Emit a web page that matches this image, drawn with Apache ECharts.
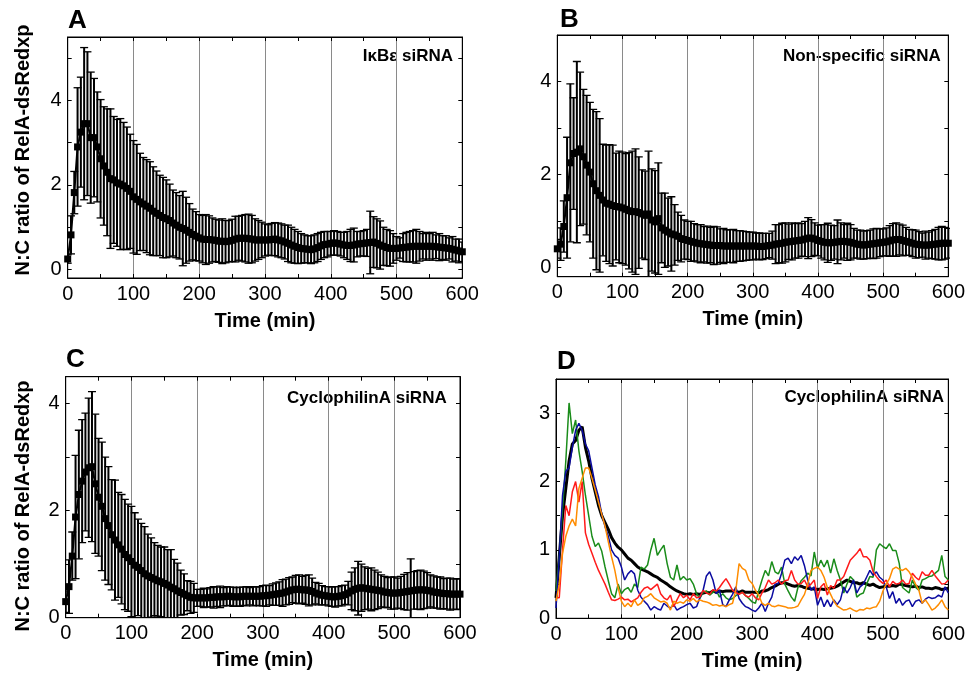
<!DOCTYPE html>
<html><head><meta charset="utf-8">
<script src="https://cdn.jsdelivr.net/npm/echarts@6/dist/echarts.min.js"></script>
<style>html,body{margin:0;padding:0;background:#fff}#c{width:968px;height:673px}</style>
</head><body><div id="c"></div>
<script>
// ---- data ----
const time = [0,5,10,15,20,25,30,35,40,45,50,55,60,65,70,75,80,85,90,95,100,105,110,115,120,125,130,135,140,145,150,155,160,165,170,175,180,185,190,195,200,205,210,215,220,225,230,235,240,245,250,255,260,265,270,275,280,285,290,295,300,305,310,315,320,325,330,335,340,345,350,355,360,365,370,375,380,385,390,395,400,405,410,415,420,425,430,435,440,445,450,455,460,465,470,475,480,485,490,495,500,505,510,515,520,525,530,535,540,545,550,555,560,565,570,575,580,585,590,595,600];
const xTickLabels = [0,100,200,300,400,500,600];

const meanA = [0.25,0.82,1.82,2.9,3.25,3.45,3.45,3.12,3.12,2.9,
2.62,2.45,2.3,2.15,2.12,2.05,2.02,1.98,1.92,1.85,
1.72,1.66,1.6,1.55,1.5,1.45,1.38,1.33,1.28,1.23,
1.2,1.16,1.1,1.05,1.0,0.97,0.93,0.88,0.83,0.79,
0.75,0.72,0.71,0.71,0.7,0.69,0.67,0.67,0.66,0.67,
0.69,0.72,0.74,0.74,0.74,0.73,0.72,0.7,0.7,0.7,
0.7,0.7,0.71,0.72,0.7,0.68,0.65,0.62,0.58,0.55,
0.52,0.5,0.49,0.48,0.47,0.49,0.52,0.56,0.59,0.6,
0.62,0.63,0.62,0.6,0.58,0.57,0.57,0.58,0.6,0.61,
0.62,0.63,0.64,0.65,0.62,0.58,0.55,0.52,0.5,0.5,
0.5,0.51,0.52,0.53,0.54,0.55,0.55,0.55,0.55,0.55,
0.55,0.55,0.54,0.53,0.52,0.51,0.5,0.48,0.46,0.44,
0.42];
const sdA = [0.1,0.45,0.5,1.4,1.3,1.8,1.7,1.55,1.4,1.3,
1.4,1.4,1.5,1.65,1.5,1.5,1.55,1.5,1.45,1.35,
1.33,1.3,1.15,1.1,1.1,1.1,1.05,1.0,0.95,0.95,
0.92,0.86,0.78,0.77,0.75,0.88,0.78,0.68,0.6,0.58,
0.55,0.56,0.59,0.56,0.52,0.5,0.5,0.53,0.5,0.49,
0.5,0.54,0.52,0.54,0.56,0.58,0.56,0.5,0.46,0.42,
0.38,0.36,0.38,0.39,0.4,0.4,0.4,0.43,0.42,0.4,
0.38,0.35,0.33,0.32,0.33,0.33,0.33,0.32,0.31,0.3,
0.28,0.29,0.28,0.28,0.3,0.33,0.38,0.4,0.3,0.29,
0.3,0.32,0.74,0.6,0.58,0.57,0.45,0.43,0.42,0.35,
0.28,0.24,0.33,0.35,0.36,0.37,0.4,0.35,0.3,0.33,
0.3,0.33,0.28,0.32,0.28,0.29,0.25,0.3,0.26,0.28,
0.23];

const meanB = [0.4,0.5,0.88,1.5,2.25,2.45,2.48,2.55,2.38,2.2,
2.05,1.8,1.65,1.55,1.45,1.38,1.36,1.33,1.31,1.3,
1.28,1.25,1.22,1.2,1.2,1.18,1.15,1.12,1.15,1.02,
0.98,1.05,0.85,0.8,0.76,0.72,0.7,0.67,0.62,0.6,
0.58,0.56,0.54,0.52,0.51,0.5,0.49,0.48,0.47,0.47,
0.47,0.46,0.46,0.46,0.46,0.46,0.46,0.46,0.46,0.46,
0.46,0.46,0.45,0.45,0.46,0.47,0.48,0.5,0.51,0.52,
0.54,0.55,0.56,0.57,0.58,0.59,0.61,0.63,0.63,0.61,
0.58,0.56,0.54,0.53,0.53,0.54,0.55,0.56,0.56,0.55,
0.54,0.52,0.5,0.49,0.48,0.49,0.5,0.51,0.52,0.53,
0.54,0.55,0.57,0.59,0.6,0.6,0.58,0.56,0.54,0.52,
0.5,0.49,0.48,0.48,0.48,0.49,0.5,0.51,0.52,0.52,
0.52];
const sdB = [0.2,0.35,0.55,1.3,1.7,1.2,1.95,1.65,1.45,1.5,
1.5,1.6,1.7,1.65,1.2,1.25,1.28,1.3,1.15,1.2,
1.2,1.2,1.25,1.3,1.35,1.2,0.95,0.95,1.35,1.1,
1.1,1.2,0.75,0.8,0.73,0.8,0.65,0.52,0.5,0.42,
0.41,0.43,0.4,0.4,0.41,0.38,0.4,0.38,0.41,0.4,
0.36,0.38,0.35,0.35,0.36,0.33,0.33,0.32,0.31,0.3,
0.3,0.28,0.29,0.28,0.27,0.26,0.3,0.42,0.41,0.43,
0.42,0.38,0.4,0.37,0.38,0.35,0.38,0.44,0.4,0.35,
0.33,0.36,0.38,0.42,0.38,0.36,0.47,0.4,0.36,0.4,
0.38,0.32,0.3,0.31,0.3,0.3,0.3,0.32,0.32,0.3,
0.29,0.3,0.33,0.35,0.36,0.33,0.33,0.3,0.28,0.29,
0.3,0.28,0.26,0.3,0.28,0.3,0.32,0.35,0.36,0.34,
0.32];

const meanC = [0.3,0.58,1.15,1.88,2.3,2.55,2.72,2.8,2.82,2.5,
2.25,2.08,1.85,1.72,1.55,1.45,1.36,1.28,1.18,1.12,
1.05,0.98,0.94,0.88,0.82,0.78,0.75,0.72,0.69,0.67,
0.64,0.61,0.57,0.54,0.5,0.47,0.44,0.41,0.38,0.37,
0.37,0.37,0.37,0.37,0.38,0.38,0.39,0.39,0.39,0.4,
0.4,0.39,0.39,0.39,0.4,0.4,0.4,0.4,0.4,0.4,
0.41,0.41,0.42,0.43,0.44,0.45,0.46,0.48,0.5,0.52,
0.53,0.53,0.52,0.52,0.51,0.49,0.46,0.44,0.42,0.41,
0.4,0.39,0.39,0.4,0.41,0.43,0.46,0.5,0.53,0.55,
0.56,0.55,0.54,0.53,0.52,0.51,0.5,0.48,0.47,0.46,
0.46,0.46,0.47,0.48,0.49,0.5,0.51,0.52,0.52,0.52,
0.51,0.5,0.48,0.47,0.46,0.45,0.45,0.44,0.44,0.44,
0.44];
const sdC = [0.2,0.5,0.45,1.15,1.2,1.15,1.1,1.3,1.4,1.3,
1.1,1.2,1.15,1.1,1.03,1.12,0.98,1.02,1.03,1.0,
1.03,0.98,0.9,0.88,0.88,0.78,0.74,0.68,0.66,0.65,
0.68,0.66,0.7,0.55,0.52,0.42,0.38,0.28,0.3,0.27,
0.16,0.16,0.18,0.17,0.18,0.2,0.18,0.2,0.17,0.18,
0.17,0.18,0.17,0.18,0.17,0.18,0.16,0.18,0.17,0.18,
0.19,0.2,0.18,0.2,0.21,0.22,0.25,0.24,0.25,0.24,
0.26,0.27,0.25,0.27,0.29,0.25,0.2,0.2,0.18,0.17,
0.18,0.18,0.19,0.18,0.19,0.18,0.22,0.35,0.4,0.5,
0.44,0.4,0.38,0.4,0.37,0.34,0.3,0.29,0.28,0.3,
0.3,0.28,0.3,0.33,0.35,0.6,0.35,0.36,0.37,0.35,
0.33,0.3,0.3,0.29,0.3,0.28,0.29,0.3,0.28,0.29,
0.28];

const dBlack = [0.3,0.9,1.5,1.9,2.3,2.55,2.6,2.75,2.8,2.5,
2.3,2.05,1.85,1.65,1.5,1.4,1.3,1.18,1.1,1.04,
1.0,0.94,0.88,0.85,0.8,0.75,0.72,0.7,0.68,0.65,
0.62,0.6,0.56,0.53,0.5,0.46,0.43,0.4,0.38,0.36,
0.35,0.36,0.35,0.36,0.35,0.37,0.38,0.37,0.4,0.38,
0.4,0.39,0.4,0.4,0.4,0.39,0.38,0.4,0.38,0.38,
0.38,0.38,0.37,0.4,0.4,0.42,0.45,0.47,0.5,0.52,
0.52,0.5,0.48,0.47,0.48,0.47,0.45,0.44,0.43,0.43,
0.42,0.43,0.42,0.43,0.44,0.45,0.47,0.5,0.53,0.56,
0.54,0.52,0.52,0.5,0.52,0.5,0.48,0.5,0.47,0.45,
0.46,0.47,0.47,0.48,0.47,0.5,0.49,0.48,0.47,0.46,
0.47,0.45,0.46,0.44,0.44,0.43,0.45,0.44,0.42,0.43,
0.44];
const dGreen = [0.4,0.9,1.6,2.3,3.15,2.7,2.9,2.45,2.15,1.8,
1.5,1.2,1.05,1.1,0.98,0.75,0.55,0.36,0.3,0.5,
0.36,0.42,0.45,0.38,0.5,0.45,0.75,0.72,0.78,1.0,
1.17,0.92,1.0,1.07,0.8,0.6,0.56,0.78,0.56,0.61,
0.56,0.58,0.5,0.36,0.29,0.38,0.4,0.34,0.38,0.41,
0.31,0.36,0.3,0.27,0.29,0.33,0.36,0.38,0.33,0.29,
0.24,0.22,0.4,0.56,0.7,0.62,0.83,0.68,0.65,0.75,
0.5,0.4,0.31,0.25,0.45,0.55,0.6,0.66,0.62,0.97,
0.73,0.85,0.75,0.85,0.66,0.87,0.7,0.56,0.37,0.5,
0.61,0.56,0.31,0.35,0.37,0.5,0.61,0.6,1.0,1.09,
1.05,1.02,1.09,0.99,0.99,0.8,0.45,0.41,0.37,0.56,
0.45,0.41,0.56,0.58,0.61,0.62,0.66,0.7,0.92,0.61,
0.56];
const dBlue = [0.15,0.9,1.8,2.15,2.2,2.5,2.75,2.85,2.75,2.55,
2.45,2.2,1.95,1.78,1.52,1.34,1.2,1.0,0.92,0.88,
0.75,0.56,0.65,0.7,0.65,0.41,0.31,0.25,0.2,0.12,
0.17,0.14,0.12,0.22,0.18,0.15,0.2,0.12,0.15,0.17,
0.2,0.22,0.15,0.17,0.3,0.41,0.62,0.68,0.56,0.36,
0.41,0.2,0.17,0.27,0.35,0.46,0.29,0.22,0.17,0.15,
0.12,0.1,0.15,0.22,0.1,0.22,0.31,0.5,0.51,0.66,
0.85,0.88,0.8,0.9,0.85,0.92,0.77,0.56,0.41,0.46,
0.19,0.31,0.17,0.27,0.17,0.27,0.2,0.27,0.46,0.37,
0.45,0.56,0.37,0.46,0.5,0.6,0.7,0.63,0.68,0.6,
0.56,0.46,0.29,0.39,0.22,0.29,0.19,0.25,0.27,0.17,
0.25,0.27,0.22,0.28,0.31,0.29,0.3,0.34,0.31,0.46,
0.37];
const dRed = [0.3,0.3,1.0,1.65,1.5,1.85,2.0,1.7,2.0,1.25,
1.08,0.95,0.82,0.7,0.6,0.5,0.38,0.27,0.26,0.28,
0.31,0.27,0.28,0.24,0.27,0.3,0.38,0.44,0.46,0.42,
0.46,0.5,0.36,0.3,0.27,0.34,0.17,0.27,0.36,0.3,
0.34,0.27,0.36,0.3,0.31,0.41,0.37,0.35,0.42,0.4,
0.45,0.52,0.58,0.5,0.41,0.38,0.35,0.38,0.33,0.31,
0.36,0.3,0.27,0.37,0.45,0.56,0.5,0.52,0.56,0.5,
0.55,0.56,0.7,0.56,0.5,0.51,0.56,0.46,0.5,0.56,
0.29,0.46,0.51,0.34,0.48,0.44,0.56,0.56,0.61,0.73,
0.85,0.9,0.95,1.02,0.9,0.9,0.85,0.68,0.61,0.55,
0.51,0.56,0.46,0.54,0.5,0.51,0.56,0.5,0.51,0.66,
0.6,0.56,0.68,0.63,0.63,0.7,0.62,0.56,0.5,0.51,
0.56];
const dOrange = [0.25,0.5,0.95,1.2,1.35,1.45,1.35,1.9,2.05,2.2,
2.2,2.05,1.88,1.7,1.52,1.35,1.12,0.9,0.7,0.45,
0.25,0.17,0.22,0.17,0.27,0.19,0.22,0.3,0.32,0.36,
0.3,0.27,0.24,0.25,0.22,0.12,0.25,0.22,0.24,0.22,
0.27,0.25,0.29,0.24,0.27,0.25,0.24,0.22,0.19,0.2,
0.18,0.19,0.17,0.2,0.22,0.41,0.8,0.73,0.7,0.56,
0.51,0.41,0.34,0.22,0.19,0.22,0.18,0.17,0.19,0.18,
0.17,0.15,0.15,0.16,0.18,0.27,0.35,0.5,0.7,0.73,
0.75,0.7,0.6,0.45,0.35,0.25,0.18,0.15,0.12,0.13,
0.15,0.12,0.1,0.13,0.12,0.15,0.14,0.16,0.17,0.25,
0.4,0.5,0.58,0.72,0.75,0.72,0.7,0.73,0.68,0.6,
0.5,0.41,0.22,0.27,0.2,0.12,0.15,0.2,0.27,0.17,
0.12];

const panelLetters = ['A','B','C','D'];
const panelNotes = ['I\u03baB\u03b5 siRNA','Non-specific siRNA','CyclophilinA siRNA','CyclophilinA siRNA'];
const yTicksABC = [[0,1,2,3,4,5],[0,1,2,3,4,5],[0,1,2,3,4]];
const yLabelsABC = [0,2,4];
const yTicksD = [0,0.5,1,1.5,2,2.5,3,3.5];
const yLabelsD = [0,1,2,3];
const yName = 'N:C ratio of RelA-dsRedxp';
const xName = 'Time (min)';

// ---- layout / style ----
const FONT = '"Liberation Sans", Arial, Helvetica, sans-serif';
const grids = [
  {left:67.7, top:37, width:394.6, height:241},
  {left:557.3, top:35, width:394.4, height:241.7},
  {left:65.7, top:376.7, width:394.3, height:241},
  {left:556, top:379, width:394, height:239.3}
];
const yRanges = [[-0.2,5.5],[-0.2,5.0],[0,4.5],[0,3.5]];
const yTicks = [yTicksABC[0], yTicksABC[1], yTicksABC[2], yTicksD];
const yLabels = [yLabelsABC, yLabelsABC, yLabelsABC, yLabelsD];

const xAxis = [], yAxis = [];
grids.forEach((g, i) => {
  const common = {type:'value', gridIndex:i, min:0, max:600, interval:100,
    axisLine:{show:true, onZero:false, lineStyle:{color:'#000', width:1}},
    axisTick:{show:true, inside:true, length:4, lineStyle:{color:'#000', width:1}},
    minorTick:{show:true, splitNumber:2, length:4, lineStyle:{color:'#000', width:1}}};
  xAxis.push(Object.assign({}, common, {position:'bottom',
    axisLabel:{show:true, color:'#000', fontSize:20, fontFamily:FONT, margin:6, customValues:xTickLabels},
    splitLine:{show:true, lineStyle:{color:'#8a8a8a', width:1}},
    name:xName, nameLocation:'middle', nameGap:33,
    nameTextStyle:{color:'#000', fontSize:20, fontWeight:'bold', fontFamily:FONT}}));
  xAxis.push(Object.assign({}, common, {position:'top',
    axisLabel:{show:false}, splitLine:{show:false}}));
  const yc = {type:'value', gridIndex:i, min:yRanges[i][0], max:yRanges[i][1],
    axisLine:{show:true, onZero:false, lineStyle:{color:'#000', width:1}},
    axisTick:{show:true, inside:true, length:4, customValues:yTicks[i], lineStyle:{color:'#000', width:1}},
    splitLine:{show:false}};
  yAxis.push(Object.assign({}, yc, {position:'left',
    axisLabel:{show:true, color:'#000', fontSize:20, fontFamily:FONT, margin:6, customValues:yLabels[i]}}));
  yAxis.push(Object.assign({}, yc, {position:'right', axisLabel:{show:false}}));
});

function errRender(params, api) {
  const x = api.value(0), lo = api.value(1), hi = api.value(2);
  const pLo = api.coord([x, lo]), pHi = api.coord([x, hi]);
  const hw = 4;
  const st = {stroke:'#000', lineWidth:2};
  const cs = {stroke:'#000', lineWidth:1.3};
  return {type:'group', children:[
    {type:'line', shape:{x1:pLo[0], y1:pLo[1], x2:pHi[0], y2:pHi[1]}, style:st},
    {type:'line', shape:{x1:pHi[0]-hw, y1:pHi[1], x2:pHi[0]+hw, y2:pHi[1]}, style:cs},
    {type:'line', shape:{x1:pLo[0]-hw, y1:pLo[1], x2:pLo[0]+hw, y2:pLo[1]}, style:cs}
  ]};
}

const series = [];
[[meanA,sdA],[meanB,sdB],[meanC,sdC]].forEach(([m, s], i) => {
  series.push({type:'custom', xAxisIndex:2*i, yAxisIndex:2*i, renderItem:errRender, z:2,
    encode:{x:0, y:[1,2]}, silent:true, clip:true,
    data: time.map((t, k) => [t, +(m[k]-s[k]).toFixed(3), +(m[k]+s[k]).toFixed(3)])});
  series.push({type:'line', xAxisIndex:2*i, yAxisIndex:2*i, z:3,
    data: time.map((t, k) => [t, m[k]]),
    symbol:'rect', symbolSize:7, showSymbol:true,
    itemStyle:{color:'#000'}, lineStyle:{color:'#000', width:2}});
});
const dLines = [
  [dBlack, '#000000', 3],
  [dGreen, '#1a8c1a', 1.5],
  [dBlue, '#0a0aa0', 1.5],
  [dRed, '#ff1a1a', 1.5],
  [dOrange, '#ff8c00', 1.5]
];
dLines.forEach(([arr, col, w], j) => {
  series.push({type:'line', xAxisIndex:6, yAxisIndex:6, z: j===0 ? 3 : 4,
    data: time.map((t, k) => [t, arr[k]]), showSymbol:false, symbol:'none',
    lineStyle:{color:col, width:w}});
});

const graphic = [];
const letterPos = [[68,21],[560,20],[66,360],[557,362]];
const notePos = [[453,56.5],[940.7,56.5],[446.7,398],[944,397]];
panelLetters.forEach((L, i) => {
  graphic.push({type:'text', x:letterPos[i][0], y:letterPos[i][1],
    style:{text:L, font:'bold 26px ' + FONT, fill:'#000', textAlign:'left', textVerticalAlign:'middle'}});
  graphic.push({type:'text', x:notePos[i][0], y:notePos[i][1],
    style:{text:panelNotes[i], font:'bold 17px ' + FONT, fill:'#000', textAlign:'right', textVerticalAlign:'middle'}});
});
[[23.5,150],[23.5,506]].forEach(p => {
  graphic.push({type:'text', x:p[0], y:p[1], rotation:Math.PI/2,
    style:{text:yName, font:'bold 20px ' + FONT, fill:'#000', textAlign:'center', textVerticalAlign:'middle'}});
});

const chart = echarts.init(document.getElementById('c'), null, {renderer:'canvas'});
chart.setOption({
  animation:false,
  backgroundColor:'#fff',
  grid: grids.map(g => Object.assign({show:true, borderColor:'#000', borderWidth:1, backgroundColor:'transparent'}, g)),
  xAxis, yAxis, series, graphic
});
</script></body></html>
